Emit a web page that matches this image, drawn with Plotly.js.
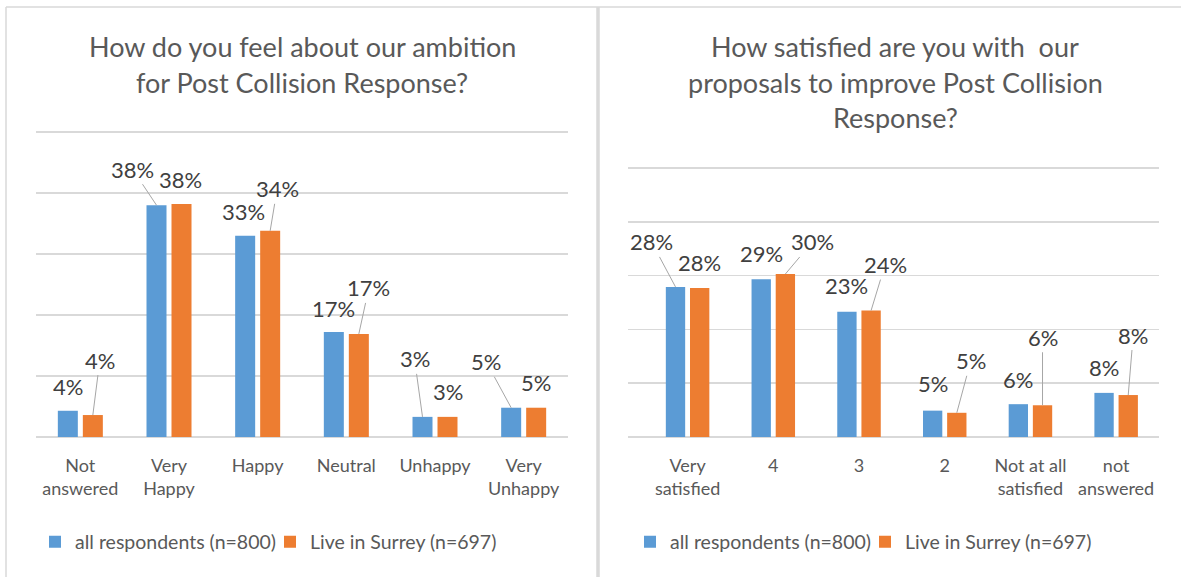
<!DOCTYPE html>
<html>
<head>
<meta charset="utf-8">
<script src="https://cdn.plot.ly/plotly-3.0.1.min.js"></script>
<style>
  html, body { margin: 0; padding: 0; background: #fff; }
  #chart { width: 1181px; height: 577px; }
</style>
</head>
<body>
<div id="chart"></div>
<script>
// ---------- DATA ----------
const seriesNames = ["all respondents (n=800)", "Live in Surrey (n=697)"];

const ambitionCategories = ["Not<br>answered", "Very<br>Happy", "Happy", "Neutral", "Unhappy", "Very<br>Unhappy"];
const ambitionAll = [4.3, 38.0, 33.0, 17.2, 3.3, 4.8];
const ambitionSurrey = [3.6, 38.2, 33.8, 16.9, 3.3, 4.8];
const ambitionAllLabels = ["4%", "38%", "33%", "17%", "3%", "5%"];
const ambitionSurreyLabels = ["4%", "38%", "34%", "17%", "3%", "5%"];

const satisfiedCategories = ["Very<br>satisfied", "4", "3", "2", "Not at all<br>satisfied", "not<br>answered"];
const satisfiedAll = [27.9, 29.3, 23.3, 4.9, 6.1, 8.2];
const satisfiedSurrey = [27.7, 30.3, 23.5, 4.5, 5.9, 7.8];
const satisfiedAllLabels = ["28%", "29%", "23%", "5%", "6%", "8%"];
const satisfiedSurreyLabels = ["28%", "30%", "24%", "5%", "6%", "8%"];

// ---------- LABEL PLACEMENT (pixel offsets of label from bar top, leader flag) ----------
const ambitionAllOffsets = [[0,-24,false],[-24,-36,true],[-2,-24,false],[0,-24,false],[-8,-58,true],[-25,-46,true]];
const ambitionSurreyOffsets = [[7,-55,true],[-1,-24,false],[7,-42,true],[10,-46,true],[0,-25,false],[0,-25,false]];
const satisfiedAllOffsets = [[-24,-45,true],[0,-26,false],[0,-26,false],[0,-27,false],[0,-25,false],[0,-25,false]];
const satisfiedSurreyOffsets = [[0,-25,false],[27,-32,true],[14,-46,true],[14,-52,true],[0,-68,true],[5,-60,true]];

// ---------- STYLE ----------
const W = 1181, H = 577;
const BLUE = "#5b9bd5", ORANGE = "#ed7d31";
const FONT = "Lato, 'Open Sans', sans-serif";
const BARGAP = 0.436, GROUPGAP = 0.2;
const barOffset = (1 - BARGAP) / 4;
const YMAX = 51;

const px = v => v / W;
const py = v => 1 - v / H;

const traces = [
  {type: "bar", x: ambitionCategories, y: ambitionAll, name: seriesNames[0], marker: {color: BLUE}, xaxis: "x", yaxis: "y", legend: "legend", hoverinfo: "skip"},
  {type: "bar", x: ambitionCategories, y: ambitionSurrey, name: seriesNames[1], marker: {color: ORANGE}, xaxis: "x", yaxis: "y", legend: "legend", hoverinfo: "skip"},
  {type: "bar", x: satisfiedCategories, y: satisfiedAll, name: seriesNames[0], marker: {color: BLUE}, xaxis: "x2", yaxis: "y2", legend: "legend2", hoverinfo: "skip"},
  {type: "bar", x: satisfiedCategories, y: satisfiedSurrey, name: seriesNames[1], marker: {color: ORANGE}, xaxis: "x2", yaxis: "y2", legend: "legend2", hoverinfo: "skip"}
];

function makeLabels(values, labels, offsets, side, xref, yref) {
  return values.map((v, i) => {
    const o = offsets[i];
    return {
      x: i + side * barOffset, y: v, xref: xref, yref: yref,
      text: labels[i], showarrow: true, arrowhead: 0, arrowwidth: 1,
      arrowcolor: o[2] ? "#a6a6a6" : "rgba(0,0,0,0)",
      ax: o[0], ay: o[1], standoff: 0, startstandoff: 0,
      font: {family: FONT, size: 22, color: "#404040"}
    };
  });
}

const titleFont = {family: FONT, size: 27, color: "#595959"};
function titleLine(text, x, y) {
  return {text: text, x: px(x), y: py(y), xref: "paper", yref: "paper", showarrow: false,
          xanchor: "center", yanchor: "middle", font: titleFont};
}

const annotations = []
  .concat(makeLabels(ambitionAll, ambitionAllLabels, ambitionAllOffsets, -1, "x", "y"))
  .concat(makeLabels(ambitionSurrey, ambitionSurreyLabels, ambitionSurreyOffsets, 1, "x", "y"))
  .concat(makeLabels(satisfiedAll, satisfiedAllLabels, satisfiedAllOffsets, -1, "x2", "y2"))
  .concat(makeLabels(satisfiedSurrey, satisfiedSurreyLabels, satisfiedSurreyOffsets, 1, "x2", "y2"))
  .concat([
    titleLine("How do you feel about our ambition", 302, 47),
    titleLine("for Post Collision Response?", 302, 82),
    titleLine("How satisfied are you with&nbsp; our", 895, 47),
    titleLine("proposals to improve Post Collision", 895, 82),
    titleLine("Response?", 895, 117)
  ]);

const xaxisBase = {
  type: "category", showgrid: false, zeroline: false, showline: false, ticks: "",
  tickfont: {family: FONT, size: 18, color: "#595959"}, fixedrange: true, ticklabelstandoff: 16
};
const yaxisBase = {
  range: [0, YMAX], tick0: 0, dtick: 10, showgrid: true, gridcolor: "#d9d9d9", gridwidth: 1.5,
  zeroline: true, zerolinecolor: "#d9d9d9", zerolinewidth: 1.5,
  showticklabels: false, ticks: "", fixedrange: true
};

const legendBase = {
  orientation: "h", xanchor: "left", yanchor: "middle",
  font: {family: FONT, size: 19.5, color: "#595959"}, bgcolor: "rgba(0,0,0,0)",
  itemclick: false, itemdoubleclick: false, tracegroupgap: 0,
  entrywidth: 190, entrywidthmode: "pixels"
};

// pixel rows of the 0 and 50 gridlines for each panel
const leftZero = 437, leftFifty = 132, rightZero = 437, rightFifty = 168;
const leftTop = leftZero - (leftZero - leftFifty) * YMAX / 50;
const rightTop = rightZero - (rightZero - rightFifty) * YMAX / 50;

const layout = {
  width: W, height: H,
  margin: {l: 0, r: 0, t: 0, b: 0},
  paper_bgcolor: "#ffffff", plot_bgcolor: "#ffffff",
  barmode: "group", bargap: BARGAP, bargroupgap: GROUPGAP,
  showlegend: true,
  xaxis: Object.assign({}, xaxisBase, {domain: [px(36), px(568)], anchor: "y"}),
  yaxis: Object.assign({}, yaxisBase, {domain: [py(leftZero), py(leftTop)], anchor: "x"}),
  xaxis2: Object.assign({}, xaxisBase, {domain: [px(628), px(1159)], anchor: "y2"}),
  yaxis2: Object.assign({}, yaxisBase, {domain: [py(rightZero), py(rightTop)], anchor: "x2"}),
  legend: Object.assign({}, legendBase, {x: px(35), y: py(542)}),
  legend2: Object.assign({}, legendBase, {x: px(630), y: py(542)}),
  annotations: annotations,
  shapes: [
    {type: "line", xref: "paper", yref: "paper", x0: px(6), x1: px(6), y0: 0, y1: py(7), line: {color: "#d9d9d9", width: 1.5}},
    {type: "line", xref: "paper", yref: "paper", x0: px(6), x1: 1, y0: py(7), y1: py(7), line: {color: "#d9d9d9", width: 1.5}},
    {type: "line", xref: "paper", yref: "paper", x0: px(598), x1: px(598), y0: 0, y1: py(7), line: {color: "#d9d9d9", width: 3.5}}
  ]
};

Plotly.newPlot("chart", traces, layout, {displayModeBar: false, staticPlot: true});
</script>
</body>
</html>
